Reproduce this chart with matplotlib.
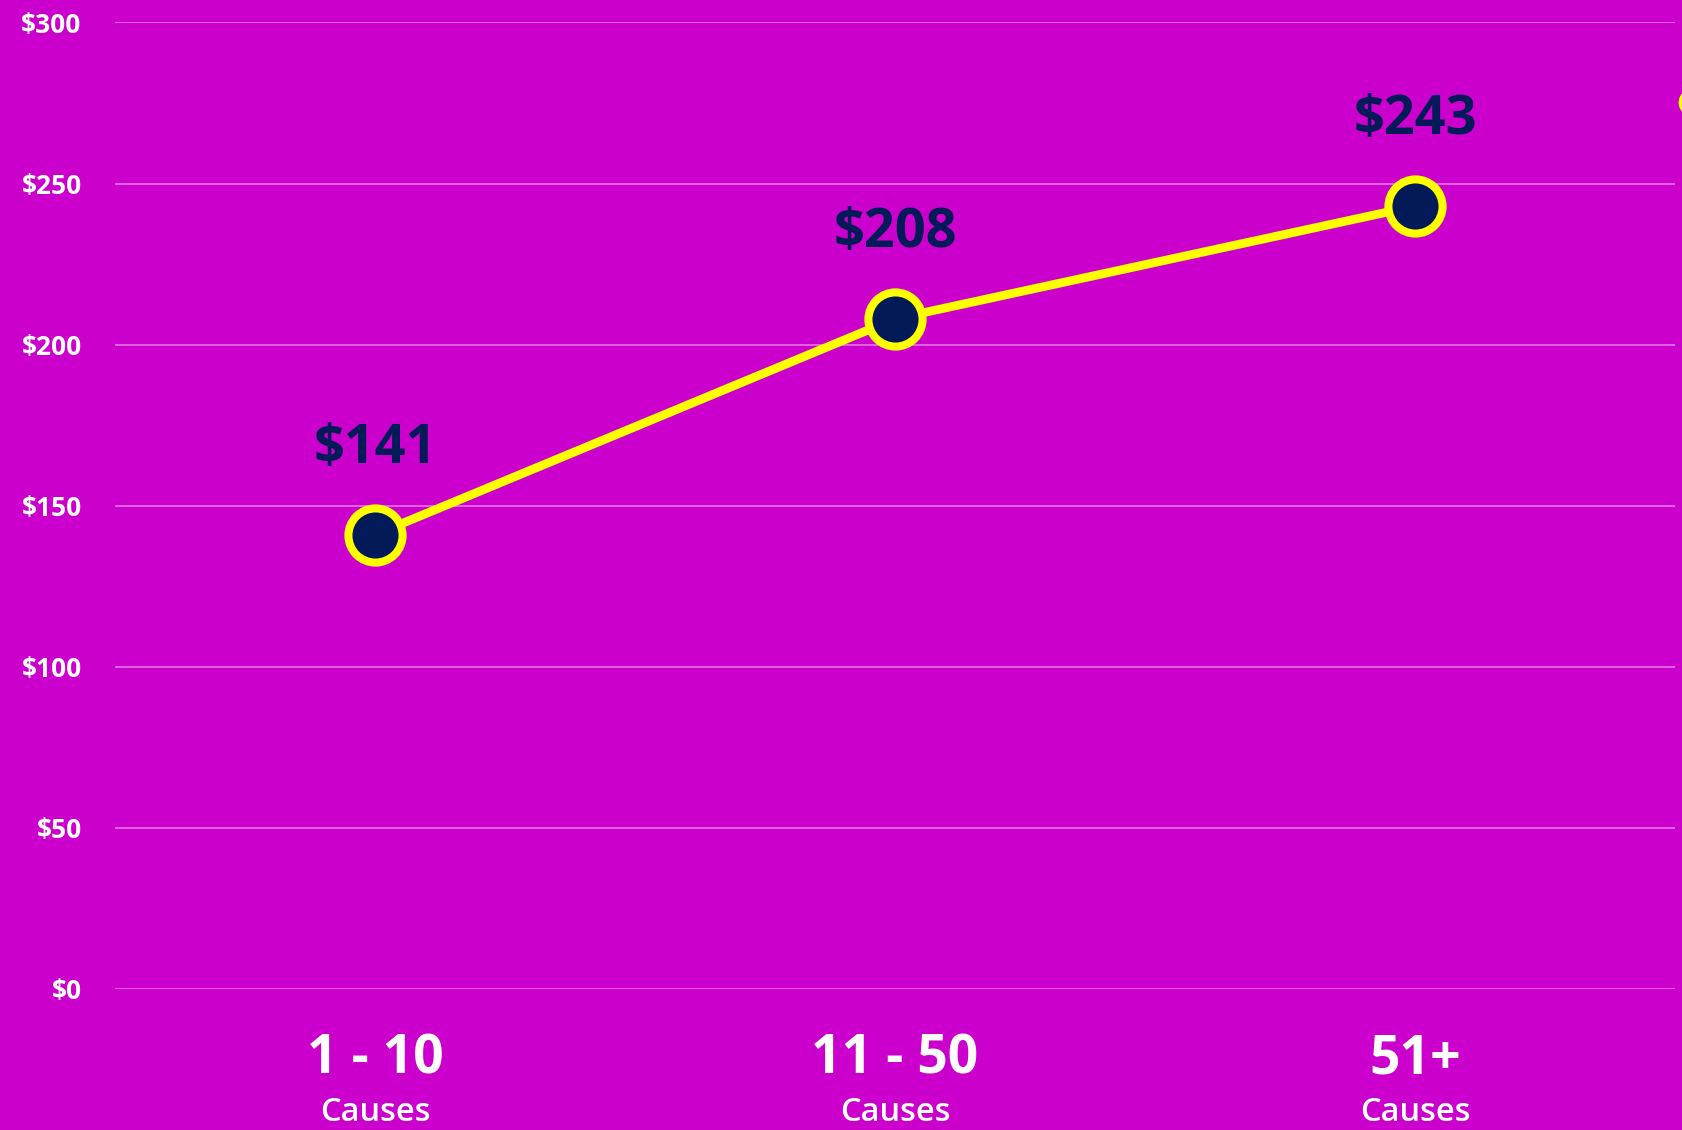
import matplotlib.pyplot as plt
from matplotlib.lines import Line2D

# Average amount by number of causes supported
groupes = ["1 - 10", "11 - 50", "51+"]
sous_titre = "Causes"
montants = [141, 208, 243]
graduations = [0, 50, 100, 150, 200, 250, 300]

fond = "#cc00cc"
jaune = "#ffff00"
marine = "#021a58"

plt.rcParams['font.family'] = ['Open Sans', 'DejaVu Sans']

fig = plt.figure(figsize=(16.82, 11.30), dpi=100)
fig.patch.set_facecolor(fond)
ax = fig.add_axes([0.0684, 0.1248, 0.9274, 0.8553])
ax.set_facecolor(fond)

x = list(range(len(groupes)))
ax.plot(x, montants, color=jaune, lw=6.3, zorder=3, solid_capstyle='round',
        marker='o', markersize=39, markerfacecolor=marine,
        markeredgecolor=jaune, markeredgewidth=5.8)

# value labels above each point
for xi, v in zip(x, montants):
    ax.annotate(f"${v}", (xi, v), xytext=(0, 86), textcoords='offset pixels',
                ha='center', va='center', fontsize=39, fontweight='bold',
                color=marine, zorder=4)

ax.set_xlim(-0.5, 2.5)
ax.set_ylim(0, 300)
ax.set_yticks(graduations)
ax.set_yticklabels([f"${g}" for g in graduations], fontsize=19,
                   fontweight='bold', color='white')
ax.tick_params(axis='y', length=0, pad=24)
ax.set_xticks([])
ax.grid(axis='y', color='white', alpha=0.5, lw=1.1)
for s in ax.spines.values():
    s.set_visible(False)

# category labels under the axis
for xi, g in zip(x, groupes):
    ax.annotate(g, (xi, 0), xycoords=('data', 'axes fraction'),
                xytext=(0, -71), textcoords='offset pixels',
                ha='center', va='center', fontsize=38.5, fontweight='bold',
                color='white', annotation_clip=False)
    ax.annotate(sous_titre, (xi, 0), xycoords=('data', 'axes fraction'),
                xytext=(0, -124), textcoords='offset pixels',
                ha='center', va='center', fontsize=23.5, fontweight='semibold',
                color='white', annotation_clip=False)

# legend marker partly outside the canvas
fig.add_artist(Line2D([1692 / 1682], [1 - 102 / 1130], transform=fig.transFigure,
                      marker='o', markersize=17, markerfacecolor=marine,
                      markeredgecolor=jaune, markeredgewidth=3, linestyle='none'))

fig.savefig("out.png", dpi=100, facecolor=fond)
